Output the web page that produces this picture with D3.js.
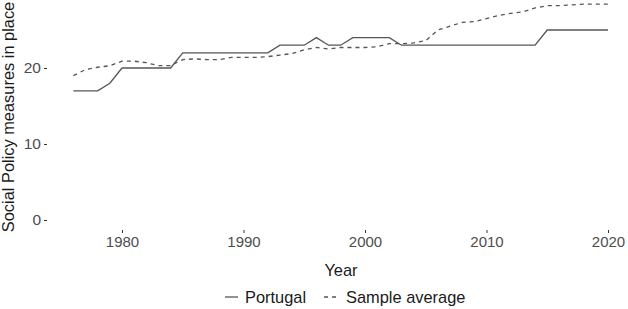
<!DOCTYPE html>
<html><head><meta charset="utf-8">
<script src="https://cdn.jsdelivr.net/npm/d3@7"></script>
<style>body{margin:0;background:#fff}svg{display:block}text{font-family:"Liberation Sans",Arial,Helvetica,sans-serif}</style>
</head><body><svg id="c" width="628" height="309"></svg>
<script>
const years = d3.range(1976, 2021);
const portugal = [17,17,17,18,20,20,20,20,20,22,22,22,22,22,22,22,22,23,23,23,24,23,23,24,24,24,24,23,23,23,23,23,23,23,23,23,23,23,23,25,25,25,25,25,25];
const sampleAvg = [19.0,19.8,20.1,20.3,20.9,20.9,20.7,20.3,20.3,21.1,21.2,21.1,21.1,21.4,21.4,21.4,21.5,21.7,21.9,22.4,22.7,22.5,22.7,22.7,22.7,22.8,23.2,23.2,23.3,23.6,25.0,25.5,26.0,26.1,26.5,26.9,27.2,27.4,27.9,28.2,28.2,28.3,28.4,28.4,28.4];
const xTicks = [1980,1990,2000,2010,2020];
const yTicks = [0,10,20];
const seriesNames = ["Portugal","Sample average"];

const svg = d3.select("#c");
const x = d3.scaleLinear().domain([1976,2020]).range([73.4,608]);
const y = d3.scaleLinear().domain([0,20]).range([220,68]);
const ink = "#4d4d4d";

// y axis
const ya = svg.append("g").attr("transform","translate(47,0)")
  .call(d3.axisLeft(y).tickValues(yTicks).tickSize(3).tickPadding(3));
ya.select(".domain").remove();
ya.selectAll(".tick line").attr("stroke","#333").attr("stroke-width",1);
ya.selectAll(".tick text").attr("fill",ink).attr("font-size",15.5).attr("font-family","Liberation Sans, Arial, sans-serif");

// x axis
const xa = svg.append("g").attr("transform","translate(0,230)")
  .call(d3.axisBottom(x).tickValues(xTicks).tickFormat(d3.format("d")).tickSize(3).tickPadding(3));
xa.select(".domain").remove();
xa.selectAll(".tick line").attr("stroke","#333").attr("stroke-width",1);
xa.selectAll(".tick text").attr("fill",ink).attr("font-size",15).attr("font-family","Liberation Sans, Arial, sans-serif");

// titles
svg.append("text").attr("x",341).attr("y",276).attr("text-anchor","middle")
  .attr("font-size",16.4).attr("fill","#1a1a1a").text("Year");
svg.append("text").attr("transform","translate(14,117) rotate(-90)").attr("text-anchor","middle")
  .attr("font-size",16.4).attr("fill","#1a1a1a").text("Social Policy measures in place");

// lines
const line = d3.line().x((d,i)=>x(years[i])).y(d=>y(d));
svg.append("path").datum(sampleAvg).attr("d",line).attr("fill","none")
  .attr("stroke","#555").attr("stroke-width",1.3).attr("stroke-dasharray","4,4");
svg.append("path").datum(portugal).attr("d",line).attr("fill","none")
  .attr("stroke","#555").attr("stroke-width",1.3);

// legend
const lg = svg.append("g");
const items = [{name:seriesNames[0],x0:225,dash:null,tx:245},{name:seriesNames[1],x0:324,dash:"4,4",tx:346}];
items.forEach(it=>{
  lg.append("line").attr("x1",it.x0).attr("x2",it.x0+13).attr("y1",297).attr("y2",297)
    .attr("stroke","#555").attr("stroke-width",1.3).attr("stroke-dasharray",it.dash);
  lg.append("text").attr("x",it.tx).attr("y",303).attr("font-size",16.4).attr("fill","#1a1a1a").text(it.name);
});
</script></body></html>
